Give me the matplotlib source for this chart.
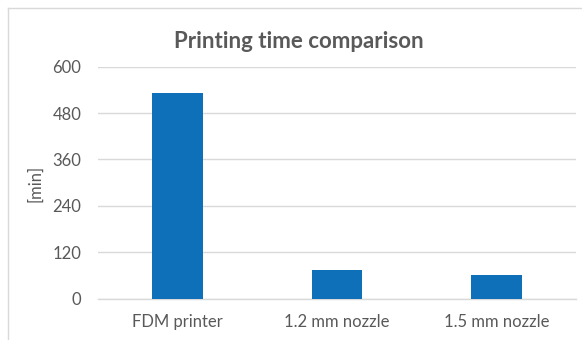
import matplotlib.pyplot as plt
from matplotlib.lines import Line2D

plt.rcParams['font.family'] = ['Lato', 'DejaVu Sans']

categories = ["FDM printer", "1.2 mm nozzle", "1.5 mm nozzle"]
times = [531, 73, 60]
yticks = [0, 120, 240, 360, 480, 600]

text_col = "#595959"
grid_col = "#d9d9d9"
bar_col = "#0e70b8"

W, H = 582, 340
fig = plt.figure(figsize=(W / 100, H / 100), dpi=100)
ax = fig.add_axes([98 / W, 1 - 298.5 / H, (576 - 98) / W, (298.5 - 66.7) / H])

x = range(len(categories))
ax.bar(x, times, width=0.32, color=bar_col, zorder=3)
ax.set_xlim(-0.5, 2.5)
ax.set_ylim(0, 600)
ax.set_yticks(yticks)
ax.set_xticks(list(x))
ax.set_xticklabels(categories)

ax.grid(axis='y', color=grid_col, linewidth=1, zorder=0)
for s in ['top', 'right', 'left']:
    ax.spines[s].set_visible(False)
ax.spines['bottom'].set_color(grid_col)
ax.spines['bottom'].set_linewidth(1)
ax.tick_params(axis='both', length=0, labelsize=12, labelcolor=text_col)
ax.tick_params(axis='y', pad=12)
ax.tick_params(axis='x', pad=11)

# y axis title
fig.text(35 / W, 1 - 183 / H, "[min]", rotation=90, ha='center', va='center',
         fontsize=12, color=text_col)

fig.text(0.514, 1 - 41.7 / H, "Printing time comparison", ha='center', va='center',
         fontsize=16, fontweight='bold', color=text_col)

# chart frame (left and top edges)
fig.add_artist(Line2D([7.5 / W, 7.5 / W], [0, 1 - 7.5 / H], transform=fig.transFigure,
                      color=grid_col, linewidth=1))
fig.add_artist(Line2D([7.5 / W, 1], [1 - 7.5 / H, 1 - 7.5 / H], transform=fig.transFigure,
                      color=grid_col, linewidth=1))

fig.savefig("out.png", dpi=100, facecolor="white")
